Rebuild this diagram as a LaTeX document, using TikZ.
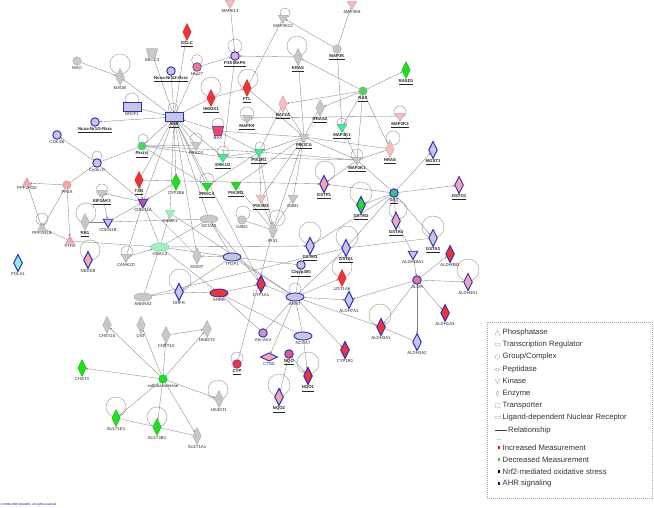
\documentclass[tikz,border=0pt]{standalone}
\usepackage{fontspec}
\setmainfont{Liberation Sans}
\usetikzlibrary{shapes.geometric,arrows.meta,backgrounds,calc}
\definecolor{gfill}{HTML}{C8C8C8}
\definecolor{gline}{HTML}{A4A4A4}
\definecolor{ered}{HTML}{F03434}
\definecolor{epink}{HTML}{F4A6AC}
\definecolor{lpink}{HTML}{F6BDBD}
\definecolor{egreen}{HTML}{1EE01E}
\definecolor{lgreen}{HTML}{40EE90}
\definecolor{pgreen}{HTML}{A0F2B8}
\definecolor{lav}{HTML}{C6C6DE}
\definecolor{bblue}{HTML}{2A2AC8}
\definecolor{edgec}{HTML}{858585}
\definecolor{rasc}{HTML}{50D850}
\definecolor{gstc}{HTML}{3CC080}
\definecolor{aldhc}{HTML}{D878A8}
\definecolor{nqoc}{HTML}{E85A78}
\definecolor{aac}{HTML}{C898C8}
\definecolor{hspc}{HTML}{F07A8A}
\definecolor{p38c}{HTML}{E8B0C8}
\definecolor{baxc}{HTML}{F04868}
\definecolor{cdkc}{HTML}{D050A0}
\definecolor{polac}{HTML}{8CF0D8}
\definecolor{pkcc}{HTML}{3CDC6C}
\definecolor{purp}{HTML}{7A3CC0}
\newcommand\nrf[1]{\underline{\textbf{#1}}}
\newcommand\mknode[4]{\node[#1] (#2) at (#3) [label=below:{#4}] {};}
\newcommand\selfloop[4]{\draw[loopc] ($(#1)+(#2,#3)$) circle (#4pt);}
\newcommand\trapshape[2]{\filldraw[#2] ($(#1.north west)+(-1,0)$) -- ($(#1.north east)+(1,0)$) -- ($(#1.south east)+(-1,0)$) -- ($(#1.south west)+(1,0)$) -- cycle;}
\tikzset{
 nd/.style={draw=gline, fill=gfill, line width=0.4pt, inner sep=0pt, outer sep=0pt},
 bb/.style={draw=bblue, line width=0.9pt},
 enz/.style={nd, diamond, minimum width=8.5pt, minimum height=17pt},
 kin/.style={nd, regular polygon, regular polygon sides=3, shape border rotate=180, minimum size=11pt},
 phos/.style={nd, regular polygon, regular polygon sides=3, minimum size=10pt},
 grp/.style={nd, circle, minimum size=8.5pt},
 treg/.style={nd, ellipse, minimum width=18pt, minimum height=8pt},
 ldnr/.style={nd, rectangle, minimum width=18pt, minimum height=8.5pt},
 transp/.style={rectangle, inner sep=0pt, outer sep=0pt, minimum width=9pt, minimum height=9pt},
 pep/.style={nd, diamond, minimum width=17pt, minimum height=8pt},
 cred/.style={fill=ered, draw=ered!85!black},
 cpink/.style={fill=epink, draw=epink!85!black},
 clpink/.style={fill=lpink, draw=lpink!85!black},
 cgreen/.style={fill=egreen, draw=egreen!80!black},
 clgreen/.style={fill=lgreen, draw=lgreen!80!black},
 cpgreen/.style={fill=pgreen, draw=pgreen!80!black},
 clav/.style={fill=lav},
 lab/.style={font=\fontsize{4.3}{4.6}\selectfont, text=black!85, inner sep=0.2pt},
 every label/.style={lab},
 label distance=0.8pt,
 ln/.style={draw=edgec, line width=0.35pt},
 ar/.style={ln, -{Stealth[length=2.4pt,width=2pt]}},
 loopc/.style={draw=edgec, line width=0.35pt},
 legt/.style={anchor=west, font=\fontsize{7.7}{8}\selectfont, text=black!80, inner sep=0pt},
 legs/.style={draw=gray!80, fill=none, line width=0.3pt, inner sep=0pt},
}
\begin{document}
\begin{tikzpicture}[x=1pt,y=-1pt]
\useasboundingbox (0,0) rectangle (654,508);
% ---- nodes ----
\mknode{kin,clpink}{mapk13}{230,3}{MAPK13}
\mknode{kin,clpink}{map3k8}{352,4}{MAP3K8}
\mknode{kin}{map3k12}{283,18}{MAP3K12}
\mknode{grp,fill=p38c,bb}{p38}{235,56}{\nrf{P38 MAPK}}
\mknode{enz}{kras}{298,57}{\nrf{KRAS}}
\mknode{grp}{map3k}{337,49}{\nrf{MAP3K}}
\mknode{enz,cgreen}{rasd1}{406,70}{\nrf{RASD1}}
\mknode{grp,fill=rasc,draw=gline}{ras}{363,91}{\nrf{RAS}}
\mknode{enz,cred}{ftl}{247,88}{\nrf{FTL}}
\mknode{enz,cred}{hmox1}{211,98}{\nrf{HMOX1}}
\mknode{enz,clpink}{raf}{283,104}{\nrf{RAF2A}}
\mknode{enz}{rras2}{320,108}{\nrf{RRAS2}}
\mknode{kin}{mapk9}{247,118}{\nrf{MAPK9}}
\mknode{kin,clpink}{map2k2}{400,116}{\nrf{MAP2K2}}
\mknode{kin,clgreen}{map3k1}{342,127}{\nrf{MAP3K1}}
\mknode{kin}{pik3ca}{304,137}{\nrf{PIK3CA}}
\mknode{enz,clpink}{hras}{390,149}{\nrf{HRAS}}
\mknode{kin}{map2k1}{357,160}{\nrf{MAP2K1}}
\mknode{transp}{bax}{218,131}{BAX}
\mknode{kin,clgreen}{erk}{223,157}{\nrf{ERK1/2}}
\mknode{kin,clgreen}{pik3r1}{259,152}{\nrf{PIK3R1}}
\mknode{enz,cred}{gclc}{187,32}{\nrf{GCLC}}
\mknode{transp}{abcc3}{152,53}{ABCC3}
\mknode{grp,fill=hspc,draw=purp,line width=0.8pt}{hsp27}{197,67}{Hsp27}
\mknode{grp}{mao}{77,61}{MAO}
\mknode{enz}{maob}{120,77}{MAOB}
\mknode{grp,clav,bb}{ncoa2}{171,71}{\nrf{Ncoa-Nr1i2-Rxra}}
\mknode{ldnr,clav,bb}{nr2f1}{132,107}{NR2F1}
\mknode{ldnr,clav,bb}{ahr}{174,117}{\nrf{AHR}}
\mknode{grp,clav,bb}{ncoa3r}{95,122}{\nrf{Ncoa-Nr1i3-Rxra}}
\mknode{grp,clav,bb}{cdk46}{57,135}{CDK4/6}
\mknode{grp,fill=pkcc,draw=gline}{pkcs}{142,146}{\nrf{Pkc(s)}}
\mknode{kin}{ptpn}{196,145}{PRKD2}
\mknode{grp,clav,bb}{cyclind}{97,163}{Cyclin D}
\mknode{phos,cpink}{ppp2r5d}{27,183}{PPP2R5D}
\mknode{grp,cpink}{pp2a}{67,185}{PP2A}
\mknode{kin}{eif2ak3}{102,193}{\nrf{EIF2AK3}}
\mknode{enz,cred}{txn}{139,180}{\nrf{TXN}}
\mknode{kin,fill=cdkc,bb}{cdkn1a}{143,202}{CDKN1A}
\mknode{enz,cgreen}{cyp2b6}{176,182}{CYP2B6}
\mknode{kin,cgreen}{prkca}{207,186}{\nrf{PRKCA}}
\mknode{kin,cgreen}{pik3r2}{236,185}{\nrf{PIK3R2}}
\mknode{kin,clpink}{pik3r3}{261,198}{\nrf{PIK3R3}}
\mknode{kin}{gab1}{293,198}{GAB1}
\mknode{kin,cpgreen}{camk1}{170,213}{CAMK1}
\mknode{kin,clav,bb}{cdkn1b}{108,222}{CDKN1B}
\mknode{phos}{ppp2r1b}{42,228}{PPP2R1B}
\mknode{enz}{rb1}{85,222}{\nrf{RB1}}
\mknode{phos,cpink}{ptpa}{70,241}{PTPA}
\mknode{enz,cpink,bb}{nedd8}{88,260}{NEDD8}
\mknode{enz,fill=polac,bb}{pola1}{18,263}{POLA1}
\mknode{treg,cpgreen}{hdac4}{160,247}{HDAC4}
\mknode{kin}{camk2d}{126,257}{CAMK2D}
\mknode{treg}{ncoa3}{209,219}{NCOA3}
\mknode{grp}{gab2}{242,220}{GAB2}
\mknode{enz}{irs1}{273,230}{IRS1}
\mknode{enz}{mgmt}{197,256}{MGMT}
\mknode{treg}{ankra2}{143,297}{ANKRA2}
\mknode{enz,clav,bb}{dhfr}{179,292}{DHFR}
\mknode{treg,cred,bb}{ahrr}{219,293}{AHRR}
\mknode{treg,clav,bb}{tfdp1}{232,257}{TFDP1}
\mknode{enz,clav,bb}{gstm3}{310,246}{\nrf{GSTM3}}
\mknode{grp,clav,bb}{cbp}{301,265}{\nrf{Cbp/p300}}
\mknode{enz,cred,bb}{cyp1a1}{261,284}{CYP1A1}
\mknode{treg,clav,bb}{arnt}{295,297}{ARNT}
\mknode{enz,cred}{ugt1a6}{342,278}{UGT1A6}
\mknode{enz,clav,bb}{aldh7a1}{349,300}{ALDH7A1}
\mknode{enz,clav,bb}{gsta1}{346,248}{\nrf{GSTA1}}
\mknode{enz,cpink,bb}{gstp1}{324,184}{\nrf{GSTP1}}
\mknode{enz,cgreen,bb}{gstm2}{361,205}{\nrf{GSTM2}}
\mknode{grp,fill=gstc,bb}{gst}{394,193}{\nrf{GST}}
\mknode{enz,cpink,bb}{gsta4}{396,221}{\nrf{GSTA4}}
\mknode{enz,clav,bb}{mgst1}{433,150}{\nrf{MGST1}}
\mknode{enz,cpink,bb}{gsto1}{459,185}{\nrf{GSTO1}}
\mknode{enz,clav,bb}{gsta3}{433,238}{\nrf{GSTA3}}
\mknode{kin,clav,bb}{aldh18a1}{413,254}{ALDH18A1}
\mknode{enz,cred,bb}{aldh3b2}{450,254}{ALDH3B2}
\mknode{grp,fill=aldhc,bb}{aldh}{417,280}{ALDH}
\mknode{enz,cpink,bb}{aldh4a1}{468,282}{ALDH4A1}
\mknode{enz,cred,bb}{aldh1a3}{445,313}{ALDH1A3}
\mknode{enz,clav,bb}{aldh3a2}{417,342}{ALDH3A2}
\mknode{enz,cred,bb}{aldh3a1}{381,327}{ALDH3A1}
\mknode{enz,cred,bb}{cyp1b1}{345,350}{CYP1B1}
\mknode{enz,cred,bb}{nqo1}{308,376}{\nrf{NQO1}}
\mknode{treg,clav,bb}{ncoa7}{303,336}{NCOA7}
\mknode{grp,fill=nqoc,bb}{nqo}{289,354}{\nrf{NQO}}
\mknode{pep,cpink,bb}{ctsd}{269,357}{CTSD}
\mknode{grp,fill=aac,bb}{ahrarnt}{263,333}{Ahr-Arnt}
\mknode{grp,cred,draw=purp,line width=0.8pt}{cyp}{237,364}{\nrf{CYP}}
\mknode{enz,cpink,bb}{nqo2}{279,397}{\nrf{NQO2}}
\mknode{enz}{hs3st1}{219,399}{HS3ST1}
\mknode{enz}{hs6st2}{207,329}{HS6ST2}
\mknode{enz}{chst10}{166,335}{CHST10}
\mknode{enz}{ust}{141,325}{UST}
\mknode{enz}{chst15}{107,325}{CHST15}
\mknode{grp,cgreen}{sulfo}{163,379}{sulfotransferase}
\mknode{enz,cgreen}{chst3}{82,368}{CHST3}
\mknode{enz,cgreen}{sult1e1}{116,418}{SULT1E1}
\mknode{enz,cgreen}{sult2b1}{157,427}{SULT2B1}
\mknode{enz}{sult1a1}{197,436}{SULT1A1}
\trapshape{bax}{fill=baxc,draw=purp,line width=0.8pt}
\trapshape{abcc3}{fill=gfill,draw=gline,line width=0.4pt}
% ---- connectors ----
\begin{pgfonlayer}{background}
\foreach \a/\b in {ahr/maob,nr2f1/ahr,ahr/ncoa3r,ncoa2/ahr,bax/ahr,hsp27/p38,mapk13/p38,kras/p38,map3k/map3k12,ras/kras,ras/rasd1,ras/raf,ras/rras2,ras/map3k1,hmox1/ftl,map2k2/mapk9,pik3ca/pik3r1,map2k1/gstp1,cyclind/cdk46,pp2a/ppp2r5d,pp2a/ppp2r1b,pp2a/ptpa,cdkn1a/eif2ak3,eif2ak3/cdkn1b,cdkn1b/cdkn1a,txn/cdkn1a,cyp2b6/cdkn1a,camk2d/hdac4,tfdp1/mgmt,tfdp1/dhfr,ahrr/cyp1a1,arnt/cyp1a1,ncoa3/cyp1a1,gst/gstm3,gst/gstp1,gst/gstm2,gst/gsta4,gst/mgst1,gst/gsto1,gst/gsta3,arnt/ugt1a6,arnt/aldh7a1,arnt/aldh3a1,arnt/cyp1b1,arnt/ctsd,ncoa7/nqo1,nqo/nqo2,nqo/nqo1,aldh18a1/aldh,aldh/aldh3b2,aldh/aldh4a1,aldh/aldh1a3,aldh/aldh3a2,aldh/aldh3a1,aldh/aldh7a1,txn/gstp1,hdac4/gstm3,sulfo/chst15,sulfo/ust,sulfo/chst10,sulfo/hs6st2,sulfo/chst3,sulfo/sult1e1,sulfo/sult2b1,sulfo/sult1a1,sulfo/hs3st1,chst10/hs6st2,mao/maob}
  \draw[ar] (\a) -- (\b);
\foreach \a/\b in {abcc3/ahr,gclc/ahr,hsp27/ahr,ahr/hmox1,ahr/pkcs,ahr/txn,ahr/cdkn1a,ahr/cyp2b6,ahr/prkca,ahr/ptpn,ahr/erk,ahr/cyp1a1,ahr/camk1,ahr/ncoa3,ahr/mgmt,map3k8/map3k,map3k12/ftl,ras/map2k1,ras/hras,map3k/map3k1,ftl/pik3ca,p38/erk,bax/pik3ca,bax/pik3r1,pik3ca/map2k1,pik3ca/hras,kras/pik3ca,rras2/pik3ca,raf/pik3r1,raf/pik3ca,pik3r1/erk,pik3r1/map2k1,map3k1/map2k1,hras/map2k1,pik3r1/pik3r3,pik3ca/gab1,pik3ca/pik3r3,pik3ca/irs1,pik3r1/irs1,gab1/irs1,pik3r3/irs1,gab2/irs1,pik3r2/irs1,erk/map2k1,pkcs/erk,pkcs/ptpn,pkcs/prkca,pkcs/pik3r1,cyclind/pkcs,cyclind/cdkn1a,pp2a/cyclind,ppp2r5d/ppp2r1b,ppp2r1b/ptpa,rb1/cdkn1b,cdkn1b/ncoa3,cdkn1a/hdac4,camk1/hdac4,hdac4/ankra2,hdac4/ptpa,hdac4/ahrr,hdac4/ncoa3,hdac4/tfdp1,camk2d/cdkn1a,dhfr/ankra2,dhfr/ahrr,mgmt/cdkn1a,tfdp1/cbp,ncoa3/tfdp1,gsta1/gsta3,gst/gsta1,gst/map2k1,arnt/cbp,arnt/tfdp1,arnt/gsta1,camk1/arnt,irs1/cyp,arnt/ncoa7,arnt/ahrarnt,ahrr/ahrarnt,aldh3a1/aldh3a2,gsta4/aldh18a1,sult1e1/sult1a1,ankra2/gsta1,ahrr/ncoa7,prkca/pik3r1,pik3r2/pik3ca}
  \draw[ln] (\a) -- (\b);
\selfloop{maob}{0}{-13}{10}
\selfloop{nr2f1}{0}{-7}{7}
\selfloop{hsp27}{0}{-7}{5.5}
\selfloop{hmox1}{0}{-11}{10}
\selfloop{pkcs}{1}{-7}{5}
\selfloop{ptpn}{0}{-6}{6}
\selfloop{cyclind}{0}{-7}{5}
\selfloop{p38}{0}{-10}{7}
\selfloop{kras}{-1}{-11}{10}
\selfloop{map3k12}{2}{-5}{5}
\selfloop{ftl}{1}{-9}{10}
\selfloop{mapk9}{0}{-4}{7}
\selfloop{map2k2}{0}{-4}{6}
\selfloop{map3k1}{0}{-4}{5}
\selfloop{hras}{3}{-11}{7}
\selfloop{map2k1}{0}{-5}{6}
\selfloop{bax}{0}{-7}{6}
\selfloop{erk}{0}{-5}{6}
\selfloop{pik3r1}{1}{-5}{5}
\selfloop{gstp1}{1}{-13}{10}
\selfloop{gstm2}{0}{-12}{11}
\selfloop{gsta4}{2}{-11}{9}
\selfloop{gstm3}{0}{-13}{11}
\selfloop{gsta1}{1}{-11}{11}
\selfloop{ugt1a6}{0}{-11}{10}
\selfloop{arnt}{0}{-8}{6}
\selfloop{irs1}{4}{-12}{8}
\selfloop{gab2}{1}{-7}{7}
\selfloop{gsta3}{0}{-11}{11}
\selfloop{aldh4a1}{0}{-12}{11}
\selfloop{aldh3a1}{-1}{-12}{11}
\selfloop{nqo1}{0}{-13}{11}
\selfloop{nqo2}{0}{-12}{11}
\selfloop{cyp}{0}{-6}{6}
\selfloop{hs3st1}{-1}{-9}{10}
\selfloop{sult1e1}{0}{-11}{10}
\selfloop{sult2b1}{0}{-10}{10}
\selfloop{dhfr}{1}{-12}{11}
\selfloop{camk2d}{1}{-5}{6}
\selfloop{nedd8}{2}{-10}{10}
\selfloop{rb1}{1}{-9}{10}
\selfloop{ppp2r1b}{0}{-9}{6}
\selfloop{eif2ak3}{0}{-3}{6}
\selfloop{prkca}{0}{-6}{7}
\selfloop{ahr}{-1}{-9}{5}
\end{pgfonlayer}
% ---- legend ----
\draw[gray!70, line width=0.4pt, dash pattern=on 1pt off 1pt] (487,322) rectangle (652,498);
\node[legs, regular polygon, regular polygon sides=3, minimum size=6pt] (s1) at (497.5,333.5) {};
\node[legs, ellipse, minimum width=5.5pt, minimum height=3pt] (s2) at (497.5,344.5) {};
\node[legs, circle, minimum size=4.5pt] (s3) at (497.5,357) {};
\node[legs, diamond, minimum width=5.5pt, minimum height=3pt] (s4) at (497.5,369.5) {};
\node[legs, regular polygon, regular polygon sides=3, shape border rotate=180, minimum size=6pt] (s5) at (497.5,380.5) {};
\node[legs, diamond, minimum width=3pt, minimum height=5.5pt] (s6) at (497.5,393.5) {};
\node[legs, rectangle, rounded corners=0.5pt, minimum width=4.5pt, minimum height=4.5pt] (s7) at (497.5,405.5) {};
\node[legs, rectangle, rounded corners=1pt, minimum width=6pt, minimum height=2.5pt] (s8) at (497.5,417.5) {};
\coordinate (r1) at (494.5,430.5);
\coordinate (r2) at (507,430.5);
\draw[black!75, line width=0.5pt] (r1) -- (r2);
\node[legt] (l1) at (502.5,333) {Phosphatase};
\node[legt] (l2) at (502.5,344.5) {Transcription Regulator};
\node[legt] (l3) at (502.5,357) {Group/Complex};
\node[legt] (l4) at (502.5,369.5) {Peptidase};
\node[legt] (l5) at (502.5,381) {Kinase};
\node[legt] (l6) at (502.5,393.5) {Enzyme};
\node[legt] (l7) at (502.5,405.5) {Transporter};
\node[legt] (l8) at (502.5,417.5) {Ligand-dependent Nuclear Receptor};
\node[legt] (l9) at (508,430.5) {Relationship};
\node[anchor=west, inner sep=0pt, font=\fontsize{2}{2}\selectfont, text=gray] (lc) at (496,439.5) {Colors};
\node[fill=red, inner sep=0pt, minimum size=2.2pt] (c1) at (499,447.5) {};
\node[fill=egreen, inner sep=0pt, minimum size=2.2pt] (c2) at (499,459.5) {};
\node[fill=black, inner sep=0pt, minimum size=2.2pt] (c3) at (499,471.5) {};
\node[fill=blue, inner sep=0pt, minimum size=2.2pt] (c4) at (499,483.5) {};
\node[legt] (l10) at (502.5,447.5) {Increased Measurement};
\node[legt] (l11) at (502.5,459.5) {Decreased Measurement};
\node[legt] (l12) at (502.5,471.5) {Nrf2-mediated oxidative stress};
\node[legt] (l13) at (502.5,483.5) {AHR signaling};
\node[anchor=west, inner sep=0pt, font=\fontsize{3}{3}\selectfont, text=blue!70!black] (copy) at (0.5,505) {© 2000-2020 QIAGEN. All rights reserved.};
\end{tikzpicture}
\end{document}
